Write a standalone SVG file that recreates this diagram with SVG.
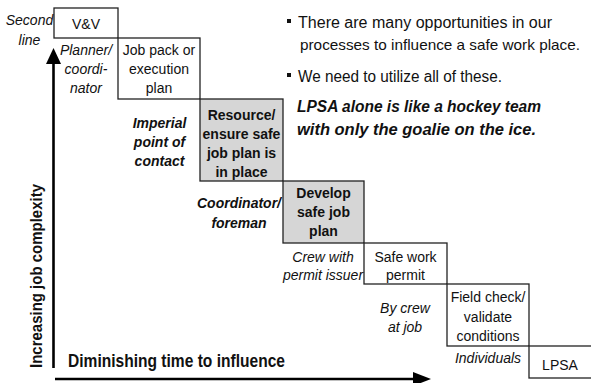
<svg xmlns="http://www.w3.org/2000/svg" width="591" height="383" viewBox="0 0 591 383">
<style>
.box{fill:#fff;stroke:#222;stroke-width:1.3}
.gray{fill:#d6d6d6}
text{font-family:"Liberation Sans",Arial,sans-serif;fill:#111}
.t{font-size:14px;text-anchor:middle}
.b{font-weight:bold}
.i{font-style:italic}
.big{font-size:16px}
.ax{stroke:#000;stroke-width:2.6;fill:none}
</style>
<rect width="591" height="383" fill="#fff"/>
<g id="connectors">
<line class="ax" x1="53.5" y1="62" x2="53.5" y2="368"/>
<polygon points="53.5,48 46,64 61,64" fill="#000"/>
<line class="ax" x1="55" y1="379" x2="416" y2="379"/>
<polygon points="431,379 413,372 413,386" fill="#000"/>
</g>
<g id="node-vv">
<rect class="box" x="54" y="8" width="64" height="30"/>
<text class="t" x="86" y="29">V&amp;V</text>
</g>
<g id="node-jobpack">
<rect class="box" x="118" y="38" width="82" height="61"/>
<text class="t" x="159" y="55">Job pack or</text>
<text class="t" x="159" y="74">execution</text>
<text class="t" x="159" y="93">plan</text>
</g>
<g id="node-resource">
<rect class="box gray" x="200" y="99" width="83" height="82"/>
<text class="t b" x="241.5" y="120">Resource/</text>
<text class="t b" x="241.5" y="139">ensure safe</text>
<text class="t b" x="241.5" y="158">job plan is</text>
<text class="t b" x="241.5" y="177">in place</text>
</g>
<g id="node-develop">
<rect class="box gray" x="283" y="181" width="81" height="62"/>
<text class="t b" x="323.5" y="198">Develop</text>
<text class="t b" x="323.5" y="217">safe job</text>
<text class="t b" x="323.5" y="236">plan</text>
</g>
<g id="node-permit">
<rect class="box" x="364" y="243" width="83" height="41"/>
<text class="t" x="405.5" y="262">Safe work</text>
<text class="t" x="405.5" y="280">permit</text>
</g>
<g id="node-fieldcheck">
<rect class="box" x="447" y="284" width="82" height="62"/>
<text class="t" x="488" y="302">Field check/</text>
<text class="t" x="488" y="322">validate</text>
<text class="t" x="488" y="341">conditions</text>
</g>
<g id="node-lpsa">
<rect class="box" x="529" y="346" width="70" height="32"/>
<text class="t" x="560" y="370">LPSA</text>
</g>
<g id="labels">
<text class="t i" x="29.5" y="25">Second</text>
<text class="t i" x="29.5" y="45">line</text>
<text class="t i" x="86" y="55">Planner/</text>
<text class="t i" x="86" y="74">coordi-</text>
<text class="t i" x="86" y="93">nator</text>
<text class="t b i" x="159.5" y="128">Imperial</text>
<text class="t b i" x="159.5" y="147">point of</text>
<text class="t b i" x="159.5" y="166">contact</text>
<text class="t b i" x="239" y="208">Coordinator/</text>
<text class="t b i" x="239" y="228">foreman</text>
<text class="t i" x="323" y="262">Crew with</text>
<text class="t i" x="323" y="280">permit issuer</text>
<text class="t i" x="405" y="313">By crew</text>
<text class="t i" x="405" y="332">at job</text>
<text class="t i" x="488" y="363">Individuals</text>
<text class="b" font-size="18" x="68" y="367" textLength="217" lengthAdjust="spacingAndGlyphs">Diminishing time to influence</text>
<text class="b" font-size="17" transform="translate(42,368) rotate(-90)" textLength="184" lengthAdjust="spacingAndGlyphs">Increasing job complexity</text>
</g>
<g id="notes">
<rect x="287" y="19" width="4" height="4" fill="#111"/>
<text class="big" x="298" y="28" textLength="254" lengthAdjust="spacingAndGlyphs">There are many opportunities in our</text>
<text style="font-size:15px" x="300" y="50" textLength="280" lengthAdjust="spacingAndGlyphs">processes to influence a safe work place.</text>
<rect x="287" y="73" width="4" height="4" fill="#111"/>
<text class="big" x="298" y="82" textLength="204" lengthAdjust="spacingAndGlyphs">We need to utilize all of these.</text>
<text class="big b i" x="297" y="112" textLength="244" lengthAdjust="spacingAndGlyphs">LPSA alone is like a hockey team</text>
<text class="big b i" x="297" y="135" textLength="239" lengthAdjust="spacingAndGlyphs">with only the goalie on the ice.</text>
</g>
</svg>
